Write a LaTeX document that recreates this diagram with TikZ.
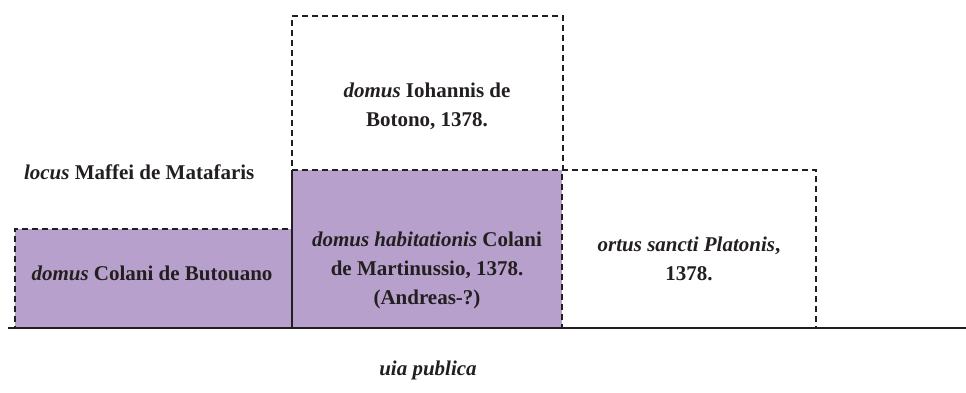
\documentclass[tikz,border=0pt]{standalone}
\usepackage{fontspec}
\setmainfont{Liberation Serif}
\usetikzlibrary{positioning}
\definecolor{lotpurple}{RGB}{184,160,204}
\definecolor{inkgray}{RGB}{35,31,32}

\begin{document}
\begin{tikzpicture}[
        x=1pt, y=-1pt,
        node distance = 0pt,
        every node/.style = {inner sep=0pt, outer sep=0pt, text=inkgray, font=\fontsize{21}{29}\selectfont\bfseries},
        lot/.style = {draw=inkgray, dash pattern=on 6pt off 4pt, line width=1.4pt},
        lotText/.style = {align=center}
    ]
        \useasboundingbox (0,0) rectangle (966,392);
%
        \node (butouano)    [lot, fill=lotpurple, minimum width=277pt, minimum height=99pt, anchor=south west] at (15,328) {};
        \node (martinussio) [fill=lotpurple, minimum width=270pt, minimum height=158pt, anchor=south west] at (butouano.south east) {};
        \node (botono)      [lot, minimum width=271pt, minimum height=154pt, anchor=south west] at (martinussio.north west) {};
        \node (platonis)    [lot, minimum width=254pt, minimum height=158pt, anchor=south west] at (martinussio.south east) {};
        \draw [draw=inkgray, line width=1.4pt] (martinussio.north west) -- (martinussio.south west);
%
        \coordinate (roadW) at (8,328);
        \coordinate (roadE) at (966,328);
        \draw [draw=inkgray, line width=1.4pt] (roadW) -- (roadE);
%
        \node (butouanoText)    at (152,273)            {\textit{domus} Colani de Butouano};
        \node (martinussioText) [lotText] at (427,270)  {\textit{domus habitationis} Colani\\de Martinussio, 1378.\\(Andreas-?)};
        \node (botonoText)      [lotText] at (427,106)  {\textit{domus} Iohannis de\\Botono, 1378.};
        \node (platonisText)    [lotText] at (689,259)  {\textit{ortus sancti Platonis},\\1378.};
        \node (matafaris)       [anchor=west] at (24,172) {\textit{locus} Maffei de Matafaris};
        \node (uia)             at (428,370)            {\textit{uia publica}};
    \end{tikzpicture}
\end{document}
